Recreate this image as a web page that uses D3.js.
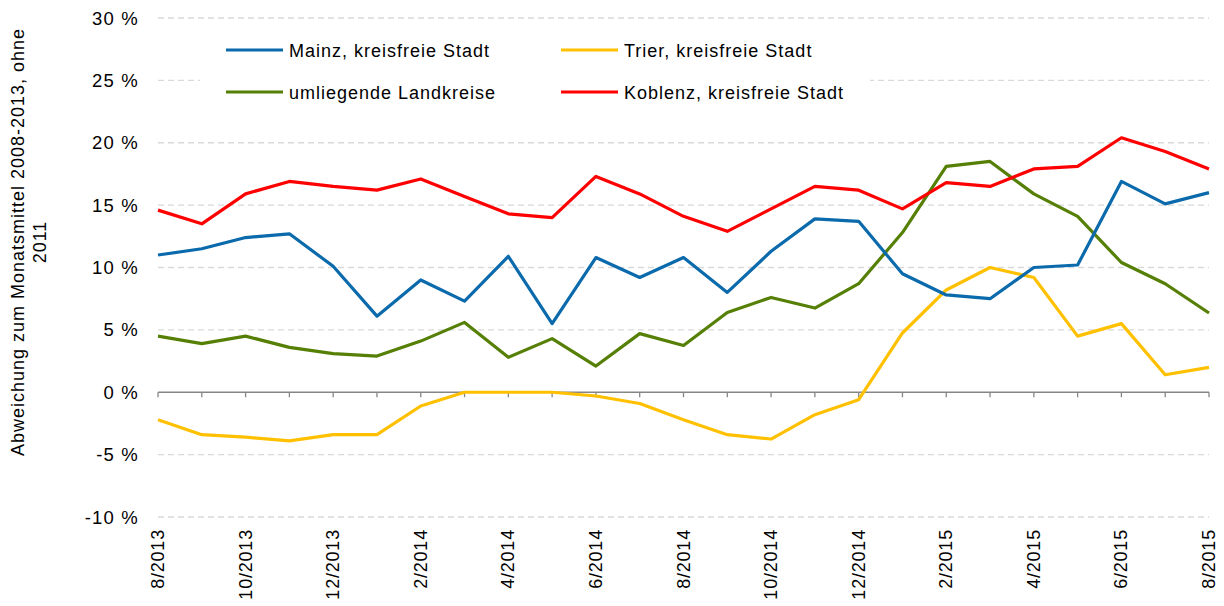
<!DOCTYPE html>
<html>
<head>
<meta charset="utf-8">
<script src="https://cdn.jsdelivr.net/npm/d3@7"></script>
<style>
  body { margin: 0; background: #fff; }
  svg text { font-family: "Liberation Sans", Arial, sans-serif; fill: #000; }
</style>
</head>
<body>
<svg id="chart" width="1224" height="606"></svg>
<script>
// monthly values 8/2013 .. 8/2015
var months = ["8/2013","9/2013","10/2013","11/2013","12/2013","1/2014","2/2014","3/2014","4/2014","5/2014",
              "6/2014","7/2014","8/2014","9/2014","10/2014","11/2014","12/2014","1/2015","2/2015","3/2015",
              "4/2015","5/2015","6/2015","7/2015","8/2015"];

var mainz   = [11.0, 11.5, 12.4, 12.7, 10.1, 6.1, 9.0, 7.3, 10.9, 5.5, 10.8, 9.2, 10.8, 8.0, 11.3, 13.9, 13.7, 9.5, 7.8, 7.5, 10.0, 10.2, 16.9, 15.1, 16.0];
var trier   = [-2.2, -3.4, -3.6, -3.9, -3.4, -3.4, -1.1, 0.0, 0.0, 0.0, -0.3, -0.9, -2.2, -3.4, -3.75, -1.8, -0.6, 4.75, 8.2, 10.0, 9.2, 4.5, 5.5, 1.4, 2.0];
var umland  = [4.5, 3.9, 4.5, 3.6, 3.1, 2.9, 4.1, 5.6, 2.8, 4.3, 2.1, 4.7, 3.75, 6.4, 7.6, 6.75, 8.7, 12.8, 18.1, 18.5, 15.9, 14.1, 10.4, 8.7, 6.35];
var koblenz = [14.6, 13.5, 15.9, 16.9, 16.5, 16.2, 17.1, 15.7, 14.3, 14.0, 17.3, 15.9, 14.1, 12.9, 14.7, 16.5, 16.2, 14.7, 16.8, 16.5, 17.9, 18.1, 20.4, 19.3, 17.9];

var yTicks = [-10, -5, 0, 5, 10, 15, 20, 25, 30];
var xLabels = ["8/2013","10/2013","12/2013","2/2014","4/2014","6/2014","8/2014","10/2014","12/2014","2/2015","4/2015","6/2015","8/2015"];

var series = [
  {name: "Mainz, kreisfreie Stadt", values: mainz, color: "#0A6AAC"},
  {name: "Trier, kreisfreie Stadt", values: trier, color: "#FFC000"},
  {name: "umliegende Landkreise", values: umland, color: "#557F05"},
  {name: "Koblenz, kreisfreie Stadt", values: koblenz, color: "#FF0000"}
];

var svg = d3.select("#chart");
var plotLeft = 158, plotRight = 1209, plotTop = 18, plotBottom = 517;

var x = d3.scalePoint().domain(months).range([plotLeft, plotRight]);
var y = d3.scaleLinear().domain([-10, 30]).range([plotBottom, plotTop]);

// gridlines
svg.append("g").selectAll("line").data(yTicks.filter(function(d){ return d != 0; }))
  .enter().append("line")
  .attr("x1", plotLeft).attr("x2", plotRight)
  .attr("y1", function(d){ return y(d); }).attr("y2", function(d){ return y(d); })
  .attr("stroke", "#d9d9d9").attr("stroke-width", 1.3)
  .attr("stroke-dasharray", "6,4");

// y labels
svg.append("g").selectAll("text").data(yTicks)
  .enter().append("text")
  .attr("x", 139).attr("y", function(d){ return y(d) + 6.5; })
  .attr("text-anchor", "end")
  .style("font-size", "18.5px")
  .style("letter-spacing", "1.2px")
  .text(function(d){ return d + " %"; });

// zero axis with ticks
var y0 = y(0);
svg.append("line").attr("x1", plotLeft).attr("x2", plotRight).attr("y1", y0).attr("y2", y0)
  .attr("stroke", "#868686").attr("stroke-width", 1.3);
svg.append("g").selectAll("line").data(months)
  .enter().append("line")
  .attr("x1", function(d){ return x(d); }).attr("x2", function(d){ return x(d); })
  .attr("y1", y0).attr("y2", y0 + 5)
  .attr("stroke", "#868686").attr("stroke-width", 1.3);

// x labels (rotated)
svg.append("g").selectAll("text").data(xLabels)
  .enter().append("text")
  .attr("transform", function(d){ return "translate(" + (x(d) + 6) + ",529) rotate(-90)"; })
  .attr("text-anchor", "end")
  .style("font-size", "18px")
  .style("letter-spacing", "0.8px")
  .text(function(d){ return d; });

// y axis title
var yt = svg.append("text")
  .attr("transform", "translate(24,242) rotate(-90)")
  .attr("text-anchor", "middle")
  .style("font-size", "18px")
  .style("letter-spacing", "1px");
yt.append("tspan").attr("x", 0).attr("dy", 0).text("Abweichung zum Monatsmittel 2008-2013, ohne");
yt.append("tspan").attr("x", 0).attr("dy", 22).text("2011");

// legend background covers the grid
svg.append("rect").attr("x", 200).attr("y", 30).attr("width", 670).attr("height", 84).attr("fill", "#fff");

// lines
var line = d3.line()
  .x(function(d, i){ return x(months[i]); })
  .y(function(d){ return y(d); });

[2, 1, 0, 3].forEach(function(k){
  var s = series[k];
  svg.append("path").datum(s.values)
    .attr("d", line)
    .attr("fill", "none")
    .attr("stroke", s.color)
    .attr("stroke-width", 3.2)
    .attr("stroke-linejoin", "round");
});

// legend
var legPos = [[226, 50], [561, 50], [226, 92], [561, 92]];
series.forEach(function(s, i){
  var p = legPos[i];
  svg.append("line").attr("x1", p[0]).attr("x2", p[0] + 57)
    .attr("y1", p[1]).attr("y2", p[1])
    .attr("stroke", s.color).attr("stroke-width", 3.2);
  svg.append("text").attr("x", p[0] + 63).attr("y", p[1] + 6.5)
    .style("font-size", "18px")
    .style("letter-spacing", "1px")
    .text(s.name);
});
</script>
</body>
</html>
